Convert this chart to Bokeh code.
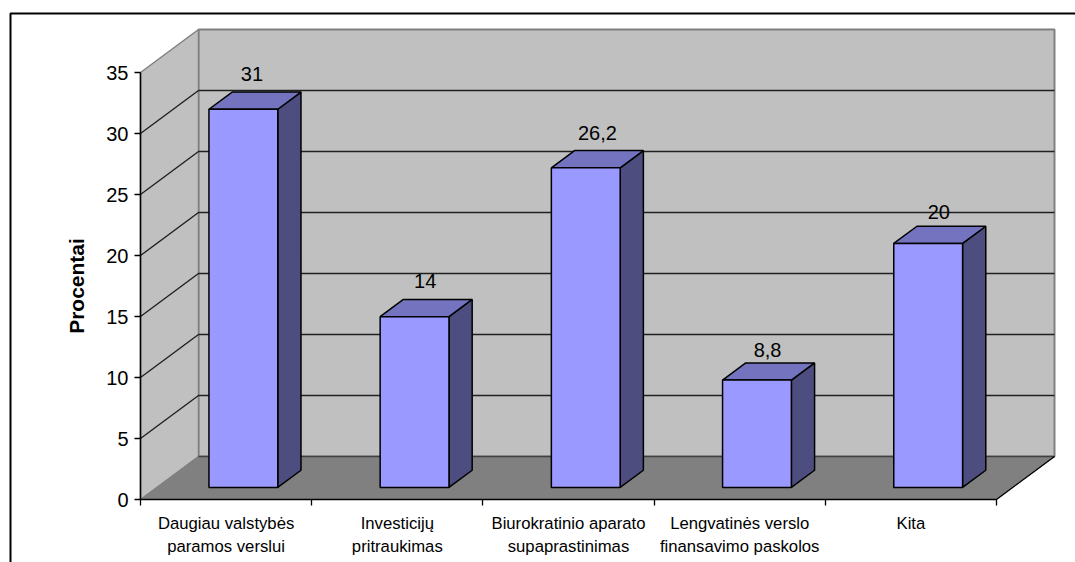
from bokeh.plotting import figure
from bokeh.models import LinearAxis, FixedTicker, Range1d, ColumnDataSource
from bokeh.core.properties import value
from bokeh.embed import file_html
from bokeh.resources import INLINE

# data
categories = ["Daugiau valstybės\nparamos verslui", "Investicijų\npritraukimas",
              "Biurokratinio aparato\nsupaprastinimas", "Lengvatinės verslo\nfinansavimo paskolos", "Kita"]
values = [31, 14, 26.2, 8.8, 20]
value_labels = ["31", "14", "26,2", "8,8", "20"]
y_ticks = [0, 5, 10, 15, 20, 25, 30, 35]
y_title = "Procentai"

# layout: figure pixels
W, H = 1075, 562
X0, X5 = 140.0, 996.0     # category axis ends
Y0, Y35 = 499.0, 72.0     # value axis ends
SX = (X5 - X0) / 5
SY = (Y0 - Y35) / 35
DX = 58 / SX              # wall depth in category units
DY = 43 / SY              # wall depth in value units
FONT = "Liberation Sans"
LABEL_DX = [-3, -1, 0, -1, -1]
LABEL_DY = [-27, -27, -26, -22, -23]

p = figure(width=W, height=H, output_backend="svg", toolbar_location=None,
           x_range=Range1d(-X0 / SX, (W - X0) / SX),
           y_range=Range1d(-(H - Y0) / SY, Y0 / SY),
           min_border=0, min_border_left=0, min_border_right=0, min_border_top=0, min_border_bottom=0,
           x_axis_type=None, y_axis_type=None, background_fill_color="white", border_fill_color="white")
p.grid.visible = False
p.outline_line_color = None


def proj(c, v, d):
    return c + d * DX, v + d * DY


def patch(corners, fill, line=None, lw=1.0):
    xs, ys = zip(*[proj(*c) for c in corners])
    p.patch(list(xs), list(ys), fill_color=fill, line_color=line or fill, line_width=lw)


# outer frame, top and left sides only
fx = [(W + 10 - X0) / SX, (10 - X0) / SX, (10 - X0) / SX]
fy = [(Y0 - 13) / SY, (Y0 - 13) / SY, -(H + 10 - Y0) / SY]
p.line(fx, fy, line_color="black", line_width=2)

TOP, N = max(y_ticks), len(categories)
GRAY, DARK = "#C0C0C0", "#808080"
patch([(0, 0, 1), (N, 0, 1), (N, TOP, 1), (0, TOP, 1)], GRAY, DARK, 2)
patch([(0, 0, 0), (0, 0, 1), (0, TOP, 1), (0, TOP, 0)], GRAY, DARK, 1.5)
patch([(0, 0, 0), (N, 0, 0), (N, 0, 1), (0, 0, 1)], DARK, DARK, 1)

# gridlines along the side and back walls
for t in y_ticks[1:-1]:
    xs, ys = zip(*[proj(*c) for c in [(0, t, 0), (0, t, 1), (N, t, 1)]])
    p.line(list(xs), list(ys), line_color="#202020", line_width=1.4)
xs, ys = zip(*[proj(*c) for c in [(0, 0, 1), (N, 0, 1)]])
p.line(list(xs), list(ys), line_color="#404040", line_width=1.5)
xs, ys = zip(*[proj(*c) for c in [(N, 0, 0), (N, 0, 1)]])
p.line(list(xs), list(ys), line_color="black", line_width=1.3)

# 3D bars
D1, D2 = 0.28, 0.68
L_OFF, R_OFF = 0.305, 0.707
EDGE = 1.5
label_x, label_y = [], []
for i, v in enumerate(values):
    l, r = i + L_OFF, i + R_OFF
    b = 0
    patch([(r, b, D1), (r, b, D2), (r, v, D2), (r, v, D1)], "#4D4D80", "black", EDGE)
    patch([(l, v, D1), (r, v, D1), (r, v, D2), (l, v, D2)], "#7373BF", "black", EDGE)
    patch([(l, b, D1), (r, b, D1), (r, v, D1), (l, v, D1)], "#9999FF", "black", EDGE)
    cx, cy = proj((l + r) / 2, v, (D1 + D2) / 2)
    label_x.append(cx)
    label_y.append(cy)

src = ColumnDataSource(dict(x=label_x, y=label_y, t=value_labels, dx=LABEL_DX, dy=LABEL_DY))
p.text("x", "y", text="t", source=src, text_font=value(FONT), text_font_size="20px",
       text_align="center", text_baseline="middle", x_offset="dx", y_offset="dy", text_color="black")

# value axis
ya = LinearAxis(ticker=FixedTicker(ticks=y_ticks), fixed_location=0, bounds=(0, TOP),
                axis_label=y_title, axis_label_text_font=FONT, axis_label_text_font_size="21px",
                axis_label_text_font_style="bold", axis_label_text_color="black", axis_label_standoff=15,
                major_label_text_font=FONT, major_label_text_font_size="20px", major_label_text_color="black",
                major_label_standoff=6, major_tick_in=0, major_tick_out=6, minor_tick_in=0, minor_tick_out=0,
                major_tick_line_color="black", axis_line_color="black", axis_line_width=1.5, major_tick_line_width=1.3)
p.add_layout(ya, "left")

# category axis: ticks at the boundaries
xa = LinearAxis(ticker=FixedTicker(ticks=list(range(N + 1))), fixed_location=0, bounds=(0, N),
                major_label_text_font_size="0px", major_label_text_color=None,
                major_tick_in=0, major_tick_out=6, minor_tick_in=0, minor_tick_out=0,
                major_tick_line_color="black", axis_line_color="black", axis_line_width=1.5, major_tick_line_width=1.3)
p.add_layout(xa, "below")

# category labels centred between the ticks
centers = [i + 0.5 for i in range(N)]
xl = LinearAxis(ticker=FixedTicker(ticks=centers), fixed_location=0,
                major_label_overrides={c: t for c, t in zip(centers, categories)},
                major_label_text_font=FONT, major_label_text_font_size="16.7px", major_label_text_color="black",
                major_label_text_line_height=1.25, major_label_standoff=8,
                major_tick_line_color=None, axis_line_color=None, minor_tick_line_color=None)
p.add_layout(xl, "below")

open("out.html", "w").write(file_html(p, INLINE))
